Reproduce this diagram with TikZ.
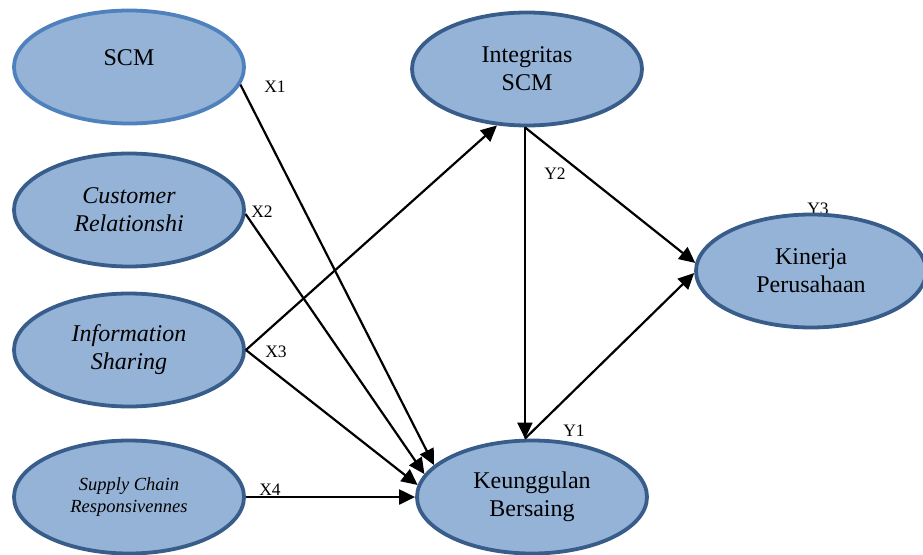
\documentclass[tikz,border=0pt]{standalone}
\usepackage{fontspec}
\setmainfont{Liberation Serif}
\usetikzlibrary{shapes.geometric,arrows.meta}
\definecolor{varfill}{RGB}{149,179,215}
\definecolor{varline}{RGB}{56,93,138}
\definecolor{scmline}{RGB}{79,129,189}
\begin{document}
\begin{tikzpicture}[x=1pt, y=-1pt,
  var/.style={ellipse, draw=varline, fill=varfill, line width=3.8pt, minimum width=230pt, minimum height=113pt, inner sep=0pt, align=center, font=\fontsize{24}{28}\selectfont},
  varit/.style={var, font=\fontsize{24}{28}\selectfont\itshape},
  link/.style={-{Triangle[length=16pt,width=15pt]}, line width=2.2pt},
  tag/.style={font=\fontsize{17.5}{17.5}\selectfont, inner sep=0pt}]
\useasboundingbox (0,0) rectangle (923,554);
% labels behind the ellipses
\node[tag] (y3) at (818,209) {Y3};
% variables
\node[var, draw=scmline, text depth=18pt] (scm) at (129,67) {SCM};
\node[varit] (cust) at (129,210) {Customer\\Relationshi};
\node[varit] (info) at (129,350) {Information\\Sharing};
\node[var, font=\fontsize{18.5}{22}\selectfont\itshape] (supply) at (129,497) {Supply Chain\\Responsivennes};
\node[var] (integ) at (527,69) {Integritas\\SCM};
\node[var] (keu) at (532,497) {Keunggulan\\Bersaing};
\node[var] (kin) at (811,271) {Kinerja\\Perusahaan};
\coordinate (ktop) at (integ.-92 |- keu.north);
% paths
\draw[link] (scm.-9) -- (keu.162);
\draw[link] (cust.-2) -- (keu.168);
\draw[link] (info.east) -- (keu.174);
\draw[link] (info.east) -- (integ.242);
\draw[link] (supply.east) -- (keu.west);
\draw[link] (integ.-92) -- (ktop);
\draw[link] (integ.-92) -- (kin.176);
\draw[link] (ktop) -- (kin.181);
% path labels
\node[tag] (x1) at (275,87) {X1};
\node[tag] (x2) at (262,212) {X2};
\node[tag] (x3) at (276,352) {X3};
\node[tag] (x4) at (270,490) {X4};
\node[tag] (y2) at (555,174) {Y2};
\node[tag] (y1) at (574,431) {Y1};
\end{tikzpicture}
\end{document}
